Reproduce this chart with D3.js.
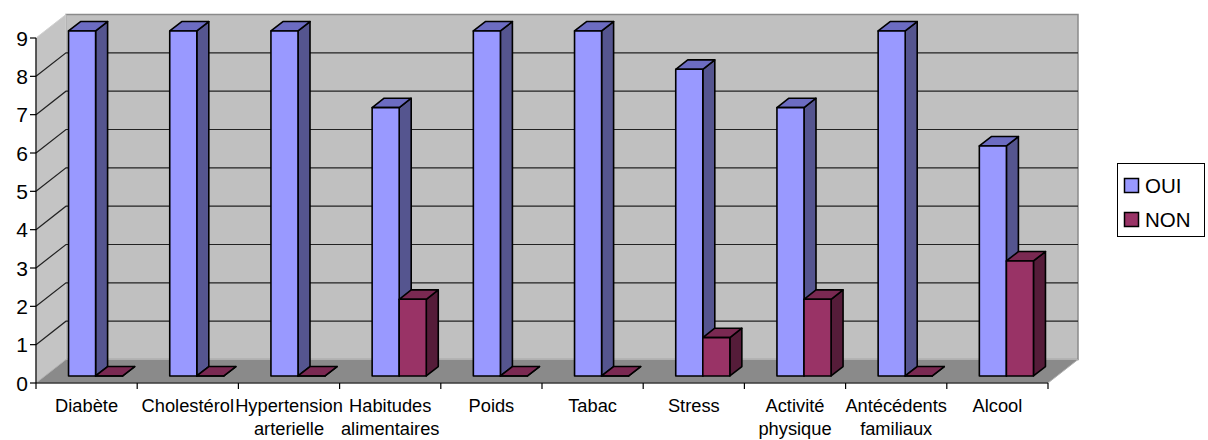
<!DOCTYPE html>
<html>
<head>
<meta charset="utf-8">
<script src="https://cdn.jsdelivr.net/npm/d3@7"></script>
<style>
  html, body { margin: 0; padding: 0; background: #fff; }
  svg { display: block; font-family: "Liberation Sans", Arial, sans-serif; }
</style>
</head>
<body>
<svg id="chart" width="1208" height="440"></svg>
<script>
// Category labels (second line after "\n")
const categories = [
  "Diabète", "Cholestérol", "Hypertension\narterielle", "Habitudes\nalimentaires",
  "Poids", "Tabac", "Stress", "Activité\nphysique", "Antécédents\nfamiliaux", "Alcool"
];
const seriesNames = ["OUI", "NON"];
const ouiValues = [9, 9, 9, 7, 9, 9, 8, 7, 9, 6];
const nonValues = [0, 0, 0, 2, 0, 0, 1, 2, 0, 3];
const yTicks = [0, 1, 2, 3, 4, 5, 6, 7, 8, 9];

const colors = {
  OUI: { front: "#9999ff", top: "#6c6cc2", side: "#55558f" },
  NON: { front: "#993366", top: "#7a2952", side: "#551c39" }
};

const svg = d3.select("#chart");

// Front plane scales
const x = d3.scaleBand().domain(categories).range([36, 1048]).padding(0);
const y = d3.scaleLinear().domain([0, 9]).range([383, 38]);
const xs = d3.scaleBand().domain(seriesNames).range([0, x.bandwidth()]).paddingInner(0).paddingOuter(0.87);

// Oblique depth projection: d in [0,1] from front plane to back wall
const DX = 30, DY = -23.5;
const P = (px, py, d) => [px + DX * d, py + DY * d];
const poly = pts => pts.map(p => p.join(",")).join(" ");

const x0 = x.range()[0], x1 = x.range()[1];
const yBase = y(0), yTop = y(9);

// Back wall
svg.append("polygon")
  .attr("points", poly([P(x0, yTop, 1), P(x1, yTop, 1), P(x1, yBase, 1), P(x0, yBase, 1)]))
  .attr("fill", "#c0c0c0").attr("stroke", "#8a8a8a").attr("stroke-width", 1.5);

// Left wall
svg.append("polygon")
  .attr("points", poly([P(x0, yBase, 0), P(x0, yBase, 1), P(x0, yTop, 1), P(x0, yTop, 0)]))
  .attr("fill", "#c4c4c4").attr("stroke", "#d0d0d0").attr("stroke-width", 1);

// Gridlines on back wall and left wall
const grid = yTicks.filter(v => v > 0 && v < 9);
svg.append("g").selectAll("polyline").data(grid).join("polyline")
  .attr("points", v => poly([P(x0, y(v), 0), P(x0, y(v), 1), P(x1, y(v), 1)]))
  .attr("fill", "none").attr("stroke", "#222").attr("stroke-width", 1.2);

// Floor
svg.append("polygon")
  .attr("points", poly([P(x0, yBase, 0), P(x0, yBase, 1), P(x1, yBase, 1), P(x1, yBase, 0)]))
  .attr("fill", "#8a8a8a").attr("stroke", "#b0b0b0").attr("stroke-width", 1);

// Bars
const bars = [];
categories.forEach((c, i) => {
  bars.push({ cat: c, s: "OUI", v: ouiValues[i] });
  bars.push({ cat: c, s: "NON", v: nonValues[i] });
});
const dF = 0.3, dB = 0.7;
const bw = xs.bandwidth();
const gBars = svg.append("g");
bars.forEach(b => {
  const l = x(b.cat) + xs(b.s), r = l + bw;
  const t = y(b.v), bot = y(0);
  const col = colors[b.s];
  const g = gBars.append("g").attr("stroke", "#000").attr("stroke-width", 1.6).attr("stroke-linejoin", "round");
  g.append("polygon").attr("fill", col.side)
    .attr("points", poly([P(r, bot, dF), P(r, bot, dB), P(r, t, dB), P(r, t, dF)]));
  g.append("polygon").attr("fill", col.top)
    .attr("points", poly([P(l, t, dF), P(r, t, dF), P(r, t, dB), P(l, t, dB)]));
  g.append("polygon").attr("fill", col.front)
    .attr("points", poly([P(l, bot, dF), P(r, bot, dF), P(r, t, dF), P(l, t, dF)]));
});

// Y axis
const yAxis = svg.append("g");
yAxis.append("line").attr("x1", x0).attr("x2", x0).attr("y1", yTop).attr("y2", yBase)
  .attr("stroke", "#000").attr("stroke-width", 1.2);
yAxis.selectAll("line.tick").data(yTicks).join("line").attr("class", "tick")
  .attr("x1", x0 - 6).attr("x2", x0).attr("y1", d => y(d)).attr("y2", d => y(d))
  .attr("stroke", "#000").attr("stroke-width", 1.2);
yAxis.selectAll("text").data(yTicks).join("text")
  .attr("x", x0 - 8).attr("y", d => y(d)).attr("dy", "0.36em")
  .attr("text-anchor", "end").attr("font-size", 21).attr("fill", "#000")
  .text(d => d);

// X axis
const xAxis = svg.append("g");
xAxis.append("line").attr("x1", x0).attr("x2", x1).attr("y1", yBase).attr("y2", yBase)
  .attr("stroke", "#000").attr("stroke-width", 1.2);
const bounds = categories.map(c => x(c)).concat([x1]);
xAxis.selectAll("line.tick").data(bounds).join("line").attr("class", "tick")
  .attr("x1", d => d).attr("x2", d => d).attr("y1", yBase).attr("y2", yBase + 6)
  .attr("stroke", "#000").attr("stroke-width", 1.2);
xAxis.selectAll("text").data(categories).join("text")
  .attr("x", c => x(c) + x.bandwidth() / 2).attr("y", 412)
  .attr("text-anchor", "middle").attr("font-size", 18.3).attr("fill", "#000")
  .each(function (c) {
    const lines = c.split("\n");
    d3.select(this).selectAll("tspan").data(lines).join("tspan")
      .attr("x", x(c) + x.bandwidth() / 2).attr("dy", (d, i) => i === 0 ? 0 : 23)
      .text(d => d);
  });

// Legend
const legend = svg.append("g");
legend.append("rect").attr("x", 1117.5).attr("y", 163.5).attr("width", 87).attr("height", 73)
  .attr("fill", "#fff").attr("stroke", "#000").attr("stroke-width", 1);
seriesNames.forEach((s, i) => {
  const yy = 178 + i * 34;
  legend.append("rect").attr("x", 1124.5).attr("y", yy + 0.5).attr("width", 14).attr("height", 14)
    .attr("fill", colors[s].front).attr("stroke", "#000").attr("stroke-width", 1.5);
  legend.append("text").attr("x", 1145).attr("y", yy + 15).attr("font-size", 20.5).attr("fill", "#000").text(s);
});
</script>
</body>
</html>
